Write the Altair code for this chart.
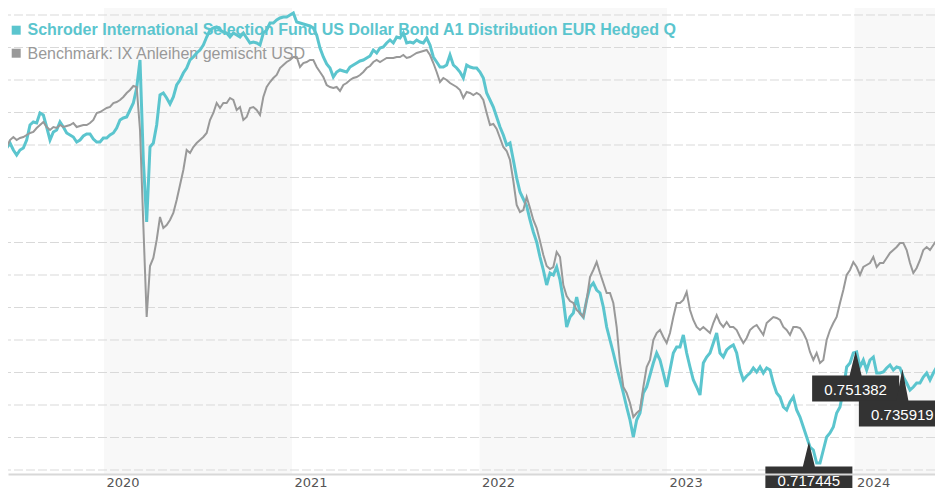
import altair as alt
import pandas as pd

SERIES_NAMES = [
    "Schroder International Selection Fund US Dollar Bond A1 Distribution EUR Hedged Q",
    "Benchmark: IX Anleihen gemischt USD",
]
TEAL = "#5bc5ce"
GRAY = "#999999"

START = "2019-06-25 13:00"
END = "2024-06-21 17:00"

FUND = [
    322, 327, 320, 315, 320, 322, 330, 345, 348, 347,
    357, 355, 343, 330, 338, 340, 348, 343, 337, 335,
    333, 328, 330, 334, 336, 336, 331, 328, 328, 332,
    332, 335, 337, 342, 350, 352, 353, 360, 367, 382,
    410, 310, 248, 323, 327, 345, 375, 377, 372, 366,
    373, 385, 390, 397, 402, 410, 413, 417, 420, 425,
    433, 440, 442, 443, 440, 438, 437, 433, 437, 435,
    433, 437, 432, 427, 428, 427, 425, 437, 440, 447,
    447, 450, 452, 453, 453, 455, 457, 448, 447, 446,
    445, 444, 442, 435, 422, 413, 406, 402, 393, 398,
    400, 399, 398, 403, 405, 407, 409, 410, 412, 414,
    420, 417, 422, 423, 427, 430, 427, 433, 432, 437,
    427, 428, 427, 430, 428, 427, 432, 425, 413, 408,
    403, 403, 405, 415, 405, 402, 398, 392, 405, 403,
    402, 402, 398, 392, 377, 370, 363, 353, 343, 335,
    325, 327, 310, 292, 278, 271, 264, 250, 238, 228,
    213, 200, 185, 197, 195, 203, 190, 170, 143, 153,
    157, 173, 157, 153, 170, 183, 187, 180, 177, 163,
    143, 130, 117, 103, 90, 77, 63, 50, 33, 50,
    57, 77, 83, 95, 107, 117, 110, 97, 83, 100,
    117, 123, 123, 135, 117, 103, 90, 83, 75, 107,
    113, 117, 127, 137, 117, 113, 120, 123, 125, 117,
    100, 90, 94, 97, 102, 98, 103, 97, 102, 100,
    87, 77, 73, 63, 60, 68, 73, 60, 53, 43,
    33, 23, 20, 7, 7, 20, 33, 37, 43, 57,
    63, 80, 103, 107, 117, 118, 103, 110, 100, 110,
    113, 97, 97, 98, 102, 105, 100, 103, 102, 93,
    87, 80, 83, 87, 87, 93, 97, 90, 97, 103,
    107, 107,
]

BENCH = [
    323, 330, 333, 330, 332, 333, 335, 337, 338, 342,
    345, 348, 343, 340, 343, 342, 345, 343, 344, 345,
    347, 343, 344, 345, 345, 347, 350, 357, 358, 360,
    362, 363, 367, 368, 370, 373, 377, 380, 384, 383,
    340, 245, 153, 204, 212, 230, 253, 242, 245, 250,
    257, 270, 285, 300, 320, 317, 323, 327, 330, 333,
    337, 350, 357, 367, 362, 367, 367, 372, 370, 360,
    363, 350, 353, 362, 363, 360, 355, 373, 383, 388,
    392, 395, 402, 405, 408, 410, 413, 413, 403, 407,
    408, 410, 410, 403, 398, 393, 385, 383, 382, 383,
    379, 385, 387, 390, 392, 393, 395, 398, 402, 404,
    408, 410, 408, 410, 412, 412, 412, 413, 413, 415,
    412, 413, 415, 417, 418, 419, 420, 415, 407, 398,
    388, 392, 390, 387, 385, 383, 380, 372, 378, 377,
    375, 377, 375, 370, 357, 345, 346, 341, 332, 323,
    319, 310, 289, 265, 258, 260, 273, 262, 250, 242,
    229, 215, 204, 201, 203, 218, 213, 185, 174, 169,
    167, 160, 157, 153, 170, 193, 200, 208, 197, 187,
    177, 177, 167, 143, 107, 83, 77, 67, 53, 57,
    60, 83, 103, 110, 130, 137, 140, 133, 127, 137,
    153, 167, 167, 170, 178, 160, 150, 143, 140, 143,
    140, 137, 147, 155, 147, 143, 148, 143, 143, 140,
    133, 127, 132, 140, 143, 145, 140, 135, 147, 150,
    153, 152, 150, 143, 140, 135, 143, 143, 142, 137,
    130, 118, 110, 117, 107, 110, 130, 140, 147, 153,
    167, 180, 195, 200, 208, 203, 195, 203, 205, 207,
    213, 203, 207, 207, 212, 217, 220, 223, 227, 227,
    220, 207, 197, 202, 210, 220, 223, 220, 225, 230,
    233, 232,
]

FLAG_DATES = ["2023-10-04", "2024-01-03", "2024-04-03"]
FLAG_VALUES = [28, 119, 101]
FLAG_LABELS = ["0.717445", "0.751382", "0.735919"]
FLAG_STACK = [0, 0, 1]

YEARS = [2020, 2021, 2022, 2023, 2024]
BAND_YEARS = [2020, 2022, 2024]
GRID_LEVELS = [0, 32.5, 65, 97.5, 130, 162.5, 195, 227.5, 260, 292.5,
               325, 357.5, 390, 422.5, 455]
Y_DOMAIN = [-4, 462]

# ---------------------------------------------------------------------------
dates = pd.date_range(START, END, periods=len(FUND))
df = pd.DataFrame({"date": dates, "fund": FUND, "bench": BENCH})

flags = pd.DataFrame({
    "date": pd.to_datetime(FLAG_DATES),
    "v": FLAG_VALUES,
    "label": FLAG_LABELS,
    "stack": FLAG_STACK,
})
bands = pd.DataFrame({
    "start": pd.to_datetime([f"{y}-01-01" for y in BAND_YEARS]),
    "end": pd.to_datetime([f"{y + 1}-01-01" for y in BAND_YEARS]),
})
grid = pd.DataFrame({"level": GRID_LEVELS})

xscale = alt.Scale(domain=[alt.DateTime(year=2019, month=6, date=28, hours=3),
                           alt.DateTime(year=2024, month=6, date=5, hours=12)])
yscale = alt.Scale(domain=Y_DOMAIN, nice=False, zero=False)

xaxis = alt.Axis(
    values=[alt.DateTime(year=y, month=1, date=1) for y in YEARS],
    format="%Y", formatType="time",
    labelAlign="left", labelBaseline="top", labelPadding=2, labelOffset=2,
    labelFont="DejaVu Sans", labelFontSize=13, labelColor="#555555",
    labelFlush=False, labelOverlap=False,
    ticks=False, grid=False, domain=True, domainColor="#d8d8d8", domainWidth=2,
    title=None, zindex=1,
)


def X(field):
    return alt.X(field, scale=xscale, axis=xaxis, title=None)


def Y(field):
    return alt.Y(field, scale=yscale, axis=None)


band_layer = alt.Chart(bands).mark_rect(color="#f8f8f8", clip=True).encode(
    x=X("start:T"),
    x2="end:T",
)

grid_layer = alt.Chart(grid).mark_rule(
    color="#d9d9d9", strokeWidth=1, strokeDash=[9, 3]
).encode(y=Y("level:Q"))

leg1 = pd.DataFrame({"t": [SERIES_NAMES[0]]})
leg2 = pd.DataFrame({"t": [SERIES_NAMES[1]]})
legend_layers = [
    alt.Chart(leg1).mark_square(size=81, color=TEAL, opacity=1, filled=True).encode(
        x=alt.value(8.2), y=alt.value(22.2)),
    alt.Chart(leg1).mark_text(align="left", baseline="middle", font="Liberation Sans",
                              fontSize=16, fontWeight="bold", color=TEAL).encode(
        x=alt.value(19.5), y=alt.value(21.5), text="t:N"),
    alt.Chart(leg2).mark_square(size=81, color=GRAY, opacity=1, filled=True).encode(
        x=alt.value(8.2), y=alt.value(45.2)),
    alt.Chart(leg2).mark_text(align="left", baseline="middle", font="Liberation Sans",
                              fontSize=16, color=GRAY).encode(
        x=alt.value(19.5), y=alt.value(46), text="t:N"),
]

fund_line = alt.Chart(df).mark_line(color=TEAL, strokeWidth=3, clip=True).encode(
    x=X("date:T"),
    y=Y("fund:Q"),
)
bench_line = alt.Chart(df).mark_line(color=GRAY, strokeWidth=2, clip=True).encode(
    x=X("date:T"),
    y=Y("bench:Q"),
)


def flag_path(pin):
    r = 43.5
    p = pin / r
    b = p + 26 / r
    h = 6 / r
    return (f"M0,0L{h:.4f},{p:.4f}L1,{p:.4f}L1,{b:.4f}L-1,{b:.4f}"
            f"L-1,{p:.4f}L-{h:.4f},{p:.4f}Z")


flag_layers = []
for level, pin in [(0, 24.5), (1, 31.5)]:
    base = alt.Chart(flags).transform_filter(alt.datum.stack == level)
    flag_layers.append(
        base.mark_point(shape=flag_path(pin), size=43.5 * 43.5 * 4, filled=True,
                        color="#333333", opacity=1, strokeWidth=0).encode(
            x=X("date:T"),
            y=Y("v:Q"),
        )
    )
    flag_layers.append(
        base.mark_text(color="#ffffff", font="Liberation Sans", fontSize=15,
                       baseline="middle", align="center", dy=pin + 14).encode(
            x=X("date:T"),
            y=Y("v:Q"),
            text="label:N",
        )
    )

chart = alt.layer(
    band_layer, grid_layer, *legend_layers, fund_line, bench_line, *flag_layers
).properties(
    width=927, height=466,
    autosize=alt.AutoSizeParams(type="none"),
    padding={"left": 0, "top": 0, "right": 0, "bottom": 14},
    background="white",
).configure_view(strokeWidth=0)

chart.save("out.html", embed_options={"renderer": "svg", "actions": False})
